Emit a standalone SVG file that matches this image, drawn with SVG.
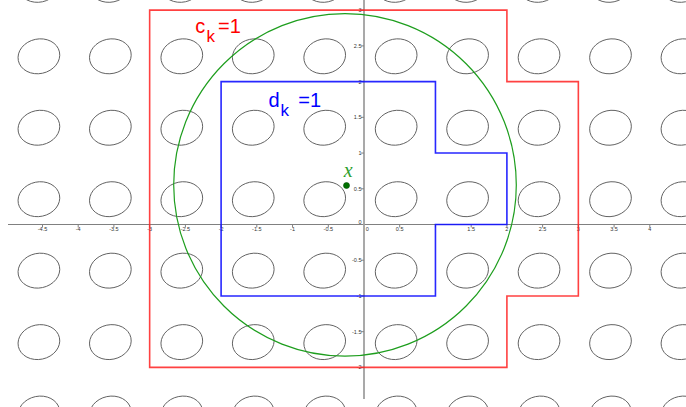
<svg xmlns="http://www.w3.org/2000/svg" xmlns:xlink="http://www.w3.org/1999/xlink" width="686" height="407" viewBox="0 0 686 407">
<style>
.ell{fill:none;stroke:#5e5e5e;stroke-width:0.9}
.tick{stroke:#808080;stroke-width:1}
.xl{font-family:"Liberation Sans",Arial,sans-serif;font-size:5.5px;fill:#333;text-anchor:middle}
.yl{font-family:"Liberation Sans",Arial,sans-serif;font-size:5.5px;fill:#333;text-anchor:end}
.big{font-family:"Liberation Sans",Arial,sans-serif;font-size:20px}
.sub{font-family:"Liberation Sans",Arial,sans-serif;font-size:17px}
</style>
<defs>
<ellipse id="e" class="ell" cx="0" cy="0" rx="21" ry="17.3" transform="rotate(-12)"/>
</defs>
<rect width="686" height="407" fill="#ffffff"/>
<g id="ellipses">
<g transform="translate(0,-15.15)">
<use xlink:href="#e" x="38.9"/><use xlink:href="#e" x="110.35"/><use xlink:href="#e" x="181.8"/><use xlink:href="#e" x="253.25"/><use xlink:href="#e" x="324.7"/><use xlink:href="#e" x="396.15"/><use xlink:href="#e" x="467.6"/><use xlink:href="#e" x="539.05"/><use xlink:href="#e" x="610.5"/><use xlink:href="#e" x="681.95"/>
</g>
<g transform="translate(0,56.3)">
<use xlink:href="#e" x="38.9"/><use xlink:href="#e" x="110.35"/><use xlink:href="#e" x="181.8"/><use xlink:href="#e" x="253.25"/><use xlink:href="#e" x="324.7"/><use xlink:href="#e" x="396.15"/><use xlink:href="#e" x="467.6"/><use xlink:href="#e" x="539.05"/><use xlink:href="#e" x="610.5"/><use xlink:href="#e" x="681.95"/>
</g>
<g transform="translate(0,127.75)">
<use xlink:href="#e" x="38.9"/><use xlink:href="#e" x="110.35"/><use xlink:href="#e" x="181.8"/><use xlink:href="#e" x="253.25"/><use xlink:href="#e" x="324.7"/><use xlink:href="#e" x="396.15"/><use xlink:href="#e" x="467.6"/><use xlink:href="#e" x="539.05"/><use xlink:href="#e" x="610.5"/><use xlink:href="#e" x="681.95"/>
</g>
<g transform="translate(0,199.2)">
<use xlink:href="#e" x="38.9"/><use xlink:href="#e" x="110.35"/><use xlink:href="#e" x="181.8"/><use xlink:href="#e" x="253.25"/><use xlink:href="#e" x="324.7"/><use xlink:href="#e" x="396.15"/><use xlink:href="#e" x="467.6"/><use xlink:href="#e" x="539.05"/><use xlink:href="#e" x="610.5"/><use xlink:href="#e" x="681.95"/>
</g>
<g transform="translate(0,270.65)">
<use xlink:href="#e" x="38.9"/><use xlink:href="#e" x="110.35"/><use xlink:href="#e" x="181.8"/><use xlink:href="#e" x="253.25"/><use xlink:href="#e" x="324.7"/><use xlink:href="#e" x="396.15"/><use xlink:href="#e" x="467.6"/><use xlink:href="#e" x="539.05"/><use xlink:href="#e" x="610.5"/><use xlink:href="#e" x="681.95"/>
</g>
<g transform="translate(0,342.1)">
<use xlink:href="#e" x="38.9"/><use xlink:href="#e" x="110.35"/><use xlink:href="#e" x="181.8"/><use xlink:href="#e" x="253.25"/><use xlink:href="#e" x="324.7"/><use xlink:href="#e" x="396.15"/><use xlink:href="#e" x="467.6"/><use xlink:href="#e" x="539.05"/><use xlink:href="#e" x="610.5"/><use xlink:href="#e" x="681.95"/>
</g>
<g transform="translate(0,413.55)">
<use xlink:href="#e" x="38.9"/><use xlink:href="#e" x="110.35"/><use xlink:href="#e" x="181.8"/><use xlink:href="#e" x="253.25"/><use xlink:href="#e" x="324.7"/><use xlink:href="#e" x="396.15"/><use xlink:href="#e" x="467.6"/><use xlink:href="#e" x="539.05"/><use xlink:href="#e" x="610.5"/><use xlink:href="#e" x="681.95"/>
</g>
</g>
<g id="axes">
<line x1="8" y1="224.5" x2="686" y2="224.5" stroke="#808080" stroke-width="1.2"/>
<line x1="364" y1="0" x2="364" y2="399" stroke="#a0a0a0" stroke-width="1.8"/>
<g class="tick">
<path d="M42.5 224.5v3M78.2 224.5v3M113.9 224.5v3M149.65 224.5v3M185.4 224.5v3M221.1 224.5v3M256.8 224.5v3M292.55 224.5v3M328.3 224.5v3M399.7 224.5v3M435.45 224.5v3M471.2 224.5v3M506.9 224.5v3M542.6 224.5v3M578.35 224.5v3M614.1 224.5v3M649.8 224.5v3"/>
<path d="M364 10.15h-3M364 45.9h-3M364 81.6h-3M364 117.3h-3M364 153.05h-3M364 188.8h-3M364 260.2h-3M364 295.95h-3M364 331.7h-3M364 367.4h-3"/>
</g>
<g id="xlabels">
<text class="xl" x="42.5" y="231">-4.5</text>
<text class="xl" x="78.2" y="231">-4</text>
<text class="xl" x="113.9" y="231">-3.5</text>
<text class="xl" x="149.65" y="231">-3</text>
<text class="xl" x="185.4" y="231">-2.5</text>
<text class="xl" x="221.1" y="231">-2</text>
<text class="xl" x="256.8" y="231">-1.5</text>
<text class="xl" x="292.55" y="231">-1</text>
<text class="xl" x="328.3" y="231">-0.5</text>
<text class="xl" x="367.3" y="231">0</text>
<text class="xl" x="399.7" y="231">0.5</text>
<text class="xl" x="471.2" y="231">1.5</text>
<text class="xl" x="506.9" y="231">2</text>
<text class="xl" x="542.6" y="231">2.5</text>
<text class="xl" x="578.35" y="231">3</text>
<text class="xl" x="614.1" y="231">3.5</text>
<text class="xl" x="649.8" y="231">4</text>
</g>
<g id="ylabels">
<text class="yl" x="361.5" y="12.1">3</text>
<text class="yl" x="361.5" y="47.9">2.5</text>
<text class="yl" x="361.5" y="83.6">2</text>
<text class="yl" x="361.5" y="119.3">1.5</text>
<text class="yl" x="361.5" y="155">1</text>
<text class="yl" x="361.5" y="190.8">0.5</text>
<text class="yl" x="361.5" y="223.5">0</text>
<text class="yl" x="361.5" y="262.2">-0.5</text>
<text class="yl" x="361.5" y="297.9">-1</text>
<text class="yl" x="361.5" y="333.7">-1.5</text>
<text class="yl" x="361.5" y="369.4">-2</text>
</g>
</g>
<g id="red-region">
<polygon points="149.65,10.15 506.9,10.15 506.9,81.6 578.35,81.6 578.35,295.95 506.9,295.95 506.9,367.4 149.65,367.4" fill="none" stroke="#ff2020" stroke-width="1.6" stroke-opacity="0.85"/>
</g>
<g id="blue-region">
<polygon points="221.1,81.6 435.45,81.6 435.45,153.05 506.9,153.05 506.9,224.5 435.45,224.5 435.45,295.95 221.1,295.95" fill="none" stroke="#1010ff" stroke-width="1.6" stroke-opacity="0.9"/>
</g>
<g id="circle">
<circle cx="345" cy="184.9" r="171.3" fill="none" stroke="#1e9e1e" stroke-width="1.2"/>
</g>
<g id="point-x">
<circle cx="346.5" cy="185.5" r="3" fill="#007000" stroke="#004d00" stroke-width="0.6"/>
<text x="343.8" y="177.3" font-family="'Liberation Serif','Times New Roman',serif" font-style="italic" font-size="20" fill="#2ea02e">x</text>
</g>
<g id="label-ck" fill="#ff0000">
<text class="big" x="195.2" y="33.3">c</text>
<text class="sub" x="206.5" y="42.3">k</text>
<text class="big" x="218" y="33.3">=1</text>
</g>
<g id="label-dk" fill="#0000ff">
<text class="big" x="268.6" y="107.3">d</text>
<text class="sub" x="280.5" y="115.7">k</text>
<text class="big" x="298.3" y="107.3">=1</text>
</g>
</svg>
